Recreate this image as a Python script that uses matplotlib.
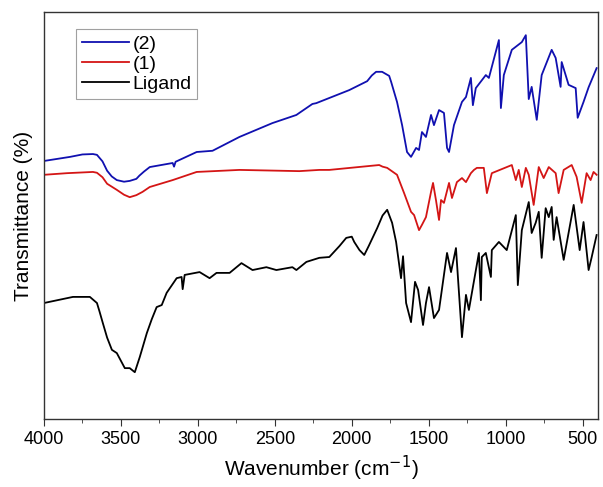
import numpy as np
import matplotlib
matplotlib.use("Agg")
import matplotlib.pyplot as plt
from matplotlib.ticker import MultipleLocator

# wavenumber (cm-1) / transmittance (a.u.)
wn_2 = [4000, 3831, 3750, 3682, 3656, 3620, 3590, 3560, 3527, 3480, 3443, 3400, 3380, 3350,
        3313, 3164, 3155, 3145, 3008, 2905, 2730, 2516, 2360, 2341, 2256, 2231, 2017, 1900,
        1870, 1842, 1803, 1757, 1744, 1706, 1673, 1641, 1615, 1582, 1563, 1544, 1518, 1485,
        1466, 1433, 1401, 1381, 1368, 1336, 1284, 1258, 1226, 1213, 1194, 1129, 1109, 1044,
        1031, 1012, 960, 895, 869, 850, 831, 798, 766, 701, 675, 643, 636, 591, 545, 532,
        494, 461, 409]
t_2 = [63.4, 64.4, 65.0, 65.1, 64.9, 63.3, 61.0, 59.6, 58.7, 58.3, 58.5, 59.0, 59.8, 60.8,
       61.9, 62.9, 62.0, 63.2, 65.6, 65.9, 69.3, 72.7, 74.7, 75.2, 77.4, 77.6, 80.8, 83.0,
       84.4, 85.3, 85.3, 84.3, 82.8, 77.9, 72.2, 65.6, 64.4, 66.6, 66.1, 70.5, 69.3, 74.7,
       72.2, 75.9, 75.2, 66.6, 65.6, 72.2, 77.9, 79.1, 83.8, 77.1, 81.3, 84.5, 83.8, 93.1,
       76.4, 84.5, 90.7, 92.6, 94.3, 78.6, 81.6, 73.5, 84.5, 90.7, 88.7, 81.6, 87.7, 82.1,
       81.3, 74.0, 77.9, 81.5, 86.2]

wn_1 = [4000, 3850, 3682, 3656, 3620, 3590, 3527, 3480, 3443, 3400, 3360, 3313, 3164, 3008,
        2730, 2341, 2211, 2146, 1822, 1800, 1770, 1706, 1660, 1615, 1595, 1563, 1544, 1518,
        1485, 1472, 1453, 1433, 1420, 1401, 1368, 1349, 1317, 1284, 1258, 1226, 1206, 1187,
        1142, 1122, 1090, 960, 934, 915, 895, 869, 850, 818, 785, 753, 720, 675, 656, 623,
        571, 539, 506, 474, 448, 429, 409]
t_1 = [60.0, 60.4, 60.7, 60.5, 59.4, 57.8, 56.3, 55.1, 54.5, 55.0, 55.8, 57.0, 58.7, 60.7,
       61.2, 60.9, 61.2, 61.2, 62.4, 62.0, 61.7, 60.0, 55.5, 50.9, 50.1, 46.4, 47.7, 49.6,
       55.8, 58.0, 53.8, 48.9, 53.8, 53.1, 58.0, 54.3, 58.2, 59.2, 58.2, 60.4, 61.2, 61.7,
       61.7, 55.5, 60.4, 62.4, 58.7, 61.2, 57.0, 61.7, 60.0, 52.6, 61.9, 59.2, 61.9, 60.4,
       55.5, 61.2, 62.4, 59.5, 53.1, 60.4, 58.7, 60.7, 60.0]

wn_lig = [4000, 3812, 3702, 3656, 3640, 3618, 3590, 3559, 3527, 3475, 3443, 3410, 3378, 3360,
          3332, 3300, 3268, 3235, 3203, 3138, 3106, 3099, 3086, 2989, 2924, 2879, 2794, 2717,
          2645, 2555, 2490, 2386, 2360, 2295, 2211, 2146, 2080, 2036, 2000, 1984, 1950, 1919,
          1890, 1835, 1800, 1770, 1738, 1712, 1680, 1667, 1647, 1615, 1589, 1569, 1537, 1518,
          1498, 1466, 1433, 1381, 1355, 1323, 1284, 1258, 1239, 1174, 1161, 1155, 1129, 1096,
          1090, 1044, 993, 934, 921, 895, 850, 831, 805, 785, 766, 740, 720, 701, 688, 669,
          623, 558, 519, 494, 461, 442, 409]
t_lig = [28.5, 30.0, 30.0, 28.5, 26.5, 23.6, 20.0, 17.0, 16.2, 12.5, 12.5, 11.5, 15.2, 17.5,
         21.1, 24.5, 27.5, 28.0, 31.0, 34.6, 34.9, 31.9, 35.4, 36.1, 34.6, 35.9, 35.9, 38.3,
         36.6, 37.3, 36.6, 37.3, 36.6, 38.6, 39.6, 39.8, 42.5, 44.5, 44.8, 43.5, 41.5, 40.3,
         42.5, 46.9, 50.0, 51.4, 48.2, 43.5, 34.6, 40.0, 28.5, 23.8, 33.7, 31.7, 23.1, 28.5,
         32.4, 24.8, 26.8, 40.8, 36.1, 42.0, 20.1, 30.5, 26.8, 40.8, 29.2, 39.8, 40.8, 34.9,
         41.5, 43.5, 41.5, 50.1, 32.9, 46.4, 53.3, 45.7, 48.2, 50.9, 39.6, 51.8, 49.6, 52.1,
         44.0, 49.6, 39.1, 52.6, 41.5, 48.4, 36.6, 39.6, 45.2]

plt.rcParams['font.family'] = ['Liberation Sans', 'DejaVu Sans']

fig = plt.figure(figsize=(6.03, 4.87), dpi=100)
ax = fig.add_axes([0.073, 0.1396, 0.9187, 0.8358])

ax.plot(wn_2, t_2, color='#1010b0', lw=1.3, label='(2)')
ax.plot(wn_1, t_1, color='#d41515', lw=1.3, label='(1)')
ax.plot(wn_lig, t_lig, color='black', lw=1.3, label='Ligand')

ax.set_xlim(4000, 400)
ax.set_ylim(0, 100)
ax.xaxis.set_major_locator(MultipleLocator(500))
ax.xaxis.set_minor_locator(MultipleLocator(250))
ax.tick_params(axis='x', which='major', direction='out', length=5, labelsize=13, color='#333333')
ax.tick_params(axis='x', which='minor', direction='out', length=3, color='#333333')
ax.set_yticks([])
for s in ax.spines.values():
    s.set_color('#333333')
    s.set_linewidth(1.0)

ax.set_xlabel('Wavenumber (cm$^{-1}$)', fontsize=15, labelpad=4)
ax.set_ylabel('Transmittance (%)', fontsize=15, labelpad=8)

leg = ax.legend(loc='upper left', bbox_to_anchor=(0.058, 0.957), fontsize=14, frameon=True,
                fancybox=False, edgecolor='#888888', handlelength=2.4, handletextpad=0.2,
                labelspacing=0.12, borderpad=0.3, borderaxespad=0)
leg.get_frame().set_linewidth(0.8)

fig.savefig('out.png', dpi=100)
